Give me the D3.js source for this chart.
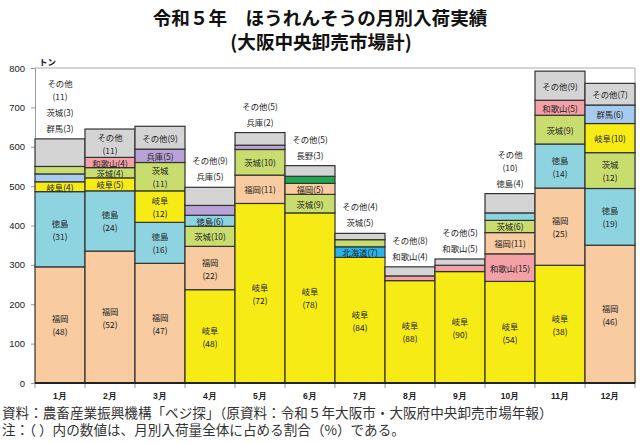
<!DOCTYPE html>
<html><head><meta charset="utf-8">
<script src="https://cdn.jsdelivr.net/npm/d3@7"></script>
<style>
html,body{margin:0;padding:0;background:#fff;}
svg{display:block;font-family:"Noto Sans CJK JP","Noto Sans",sans-serif;}
</style></head>
<body>
<svg id="chart" width="640" height="444"></svg>
<script>
// ---- data ----
const months = ["1月","2月","3月","4月","5月","6月","7月","8月","9月","10月","11月","12月"];
const producers = ["福岡","徳島","岐阜","群馬","茨城","和歌山","兵庫","長野","北海道","その他"];
// tons
const fukuoka  = [295,335,304,110, 72, 28,  0,  0,  0, 54,196,350];
const tokushima= [191,153,104, 28,  0,  0,  0,  0,  0, 19,112,144];
const gifu     = [ 25, 33, 80,237,456,432,319,260,283,258,299, 74];
const gunma    = [ 20,  0,  0,  0,  0,  0,  0,  0,  0,  0,  0, 47];
const ibaraki  = [ 19, 26, 72, 51, 65, 47, 18,  0,  0, 31, 73, 91];
const wakayama = [  0, 26,  0,  0,  0,  0,  0, 12, 16, 70, 38,  0];
const hyogo    = [  0,  0, 34, 25, 11,  0,  0,  0,  0,  0,  0,  0];
const nagano   = [  0,  0,  0,  0,  0, 18,  0,  0,  0,  0,  0,  0];
const hokkaido = [  0,  0,  0,  0,  0,  0, 27,  0,  0,  0,  0,  0];
const others   = [ 70, 72, 58, 46, 32, 27, 16, 23, 16, 49, 74, 55];
// share of month total (%)
const fukuokaPct  = [48,52,47,22,11, 5,0,0,0,11,25,46];
const tokushimaPct= [31,24,16, 6, 0, 0,0,0,0, 4,14,19];
const gifuPct     = [ 4, 5,12,48,72,78,84,88,90,54,38,10];
const gunmaPct    = [ 3, 0, 0, 0, 0, 0,0,0,0, 0, 0, 6];
const ibarakiPct  = [ 3, 4,11,10,10, 9,5,0,0, 6, 9,12];
const wakayamaPct = [ 0, 4, 0, 0, 0, 0,0,4,5,15, 5, 0];
const hyogoPct    = [ 0, 0, 5, 5, 2, 0,0,0,0, 0, 0, 0];
const naganoPct   = [ 0, 0, 0, 0, 0, 3,0,0,0, 0, 0, 0];
const hokkaidoPct = [ 0, 0, 0, 0, 0, 0,7,0,0, 0, 0, 0];
const othersPct   = [11,11, 9, 9, 5, 5,4,8,5,10, 9, 7];
const yTicks = [0,100,200,300,400,500,600,700,800];
// label style per month, in stacking order (2: two lines inside, 1: one line inside, o: above bar, o2: above bar two lines)
const labelModes = [
  "2 2 1 o o o2","2 2 1 1 1 2","2 2 2 2 1 1","2 2 1 1 o o","2 1 1 o o","2 1 1 o o",
  "2 1 o o","2 o o","2 o o","2 1 1 1 o o2","2 2 2 1 1 1","2 2 2 1 1 1"
];

const tons = [fukuoka,tokushima,gifu,gunma,ibaraki,wakayama,hyogo,nagano,hokkaido,others];
const pcts = [fukuokaPct,tokushimaPct,gifuPct,gunmaPct,ibarakiPct,wakayamaPct,hyogoPct,naganoPct,hokkaidoPct,othersPct];
const colors = {"福岡":"#F8CBA0","徳島":"#8ED3E0","岐阜":"#F6EB14","群馬":"#A7CBEE","茨城":"#C9DD6F",
  "和歌山":"#F3A0A6","兵庫":"#B9A2D8","長野":"#1FA84F","北海道":"#28B4E6","その他":"#D4D4D4"};

// ---- layout ----
const svg = d3.select("#chart");
const L = 35, R = 635, T = 68, B = 383;
const x = d3.scaleBand().domain(months).range([L, R]).padding(0);
const y = d3.scaleLinear().domain([0, 800]).range([B, T]);

// title
svg.append("text").attr("x",320).attr("y",25).attr("text-anchor","middle")
  .attr("font-size",18.6).attr("font-weight","bold").attr("fill","#111")
  .text("令和５年　ほうれんそうの月別入荷実績");
svg.append("text").attr("x",321).attr("y",48.5).attr("text-anchor","middle")
  .attr("font-size",18.6).attr("font-weight","bold").attr("fill","#111")
  .text("(大阪中央卸売市場計)");

// plot frame
svg.append("line").attr("x1",L).attr("x2",R).attr("y1",T).attr("y2",T).attr("stroke","#aaa").attr("stroke-width",1);
svg.append("line").attr("x1",R).attr("x2",R).attr("y1",T).attr("y2",B).attr("stroke","#aaa").attr("stroke-width",1);

// y axis
const yAxis = d3.axisLeft(y).tickValues(yTicks).tickSize(4).tickPadding(6);
const ya = svg.append("g").attr("transform",`translate(${L},0)`).call(yAxis);
ya.select(".domain").attr("stroke","#999");
ya.selectAll(".tick line").attr("stroke","#999");
ya.selectAll("text").attr("font-size",9.5).attr("fill","#222").attr("font-family","Liberation Sans, Arial, sans-serif");

svg.append("text").attr("x",39).attr("y",65).attr("font-size",8.5).attr("font-weight","bold").attr("fill","#111").text("トン");

// stacks
months.forEach((m, mi) => {
  const segs = producers.map((p, pi) => ({name:p, v:tons[pi][mi], pct:pcts[pi][mi]}))
    .filter(d => d.v > 0);
  const main = segs.filter(d => d.name !== "その他").sort((a,b) => b.v - a.v);
  const stack = main.concat(segs.filter(d => d.name === "その他"));
  let acc = 0;
  stack.forEach(d => { d.y0 = acc; acc += d.v; d.y1 = acc; });
  const modes = labelModes[mi].split(" ");
  stack.forEach((d,i) => d.mode = modes[i]);
  const g = svg.append("g");
  const x0 = x(m), w = x.bandwidth();
  g.selectAll("rect").data(stack).join("rect")
    .attr("x", x0).attr("width", w)
    .attr("y", d => y(d.y1)).attr("height", d => y(d.y0) - y(d.y1))
    .attr("fill", d => colors[d.name]).attr("stroke","#333").attr("stroke-width",1.2);
  const cx = x0 + w/2;
  const lab = (txt, yy) => g.append("text").attr("x",cx).attr("y",yy)
    .attr("text-anchor","middle").attr("dominant-baseline","central")
    .attr("font-size",8.4).attr("fill","#222").text(txt);
  stack.forEach(d => {
    const cy = (y(d.y0) + y(d.y1))/2;
    if (d.mode === "2") { lab(d.name, cy - 6.5); lab(`(${d.pct})`, cy + 6.5); }
    else if (d.mode === "1") { lab(`${d.name}(${d.pct})`, cy); }
  });
  // outside labels, from top segment downward, stacked above bar
  const outs = stack.filter(d => d.mode[0] === "o").reverse();
  let ly = y(acc) - 11;
  const lines = [];
  outs.forEach(d => {
    if (d.mode === "o2") lines.push([d.name, `(${d.pct})`]);
    else lines.push([`${d.name}(${d.pct})`]);
  });
  for (let i = lines.length - 1; i >= 0; i--) {
    const ls = lines[i];
    for (let j = ls.length - 1; j >= 0; j--) {
      lab(ls[j], ly);
      ly -= (j > 0) ? 12.5 : 16;
    }
  }
});

// x axis
const xAxis = d3.axisBottom(x).tickSize(0).tickPadding(10);
const xa = svg.append("g").attr("transform",`translate(0,${B})`).call(xAxis);
xa.select(".domain").remove();
xa.selectAll("text").attr("font-size",8.6).attr("font-weight","bold").attr("fill","#222");
svg.append("g").selectAll("line").data(d3.range(months.length+1)).join("line")
  .attr("x1", i => L + i*x.bandwidth()).attr("x2", i => L + i*x.bandwidth())
  .attr("y1", B).attr("y2", B+5).attr("stroke","#999");
svg.append("line").attr("x1",L).attr("x2",R).attr("y1",B).attr("y2",B).attr("stroke","#222").attr("stroke-width",1.8);

// footer
svg.append("text").attr("x",2).attr("y",417.5).attr("font-size",13.6).attr("fill","#333")
  .text("資料：農畜産業振興機構「ベジ探」（原資料：令和５年大阪市・大阪府中央卸売市場年報）");
svg.append("text").attr("x",2).attr("y",434.5).attr("font-size",13.6).attr("fill","#333")
  .text("注：（ ）内の数値は、月別入荷量全体に占める割合（%）である。");
</script>
</body></html>
